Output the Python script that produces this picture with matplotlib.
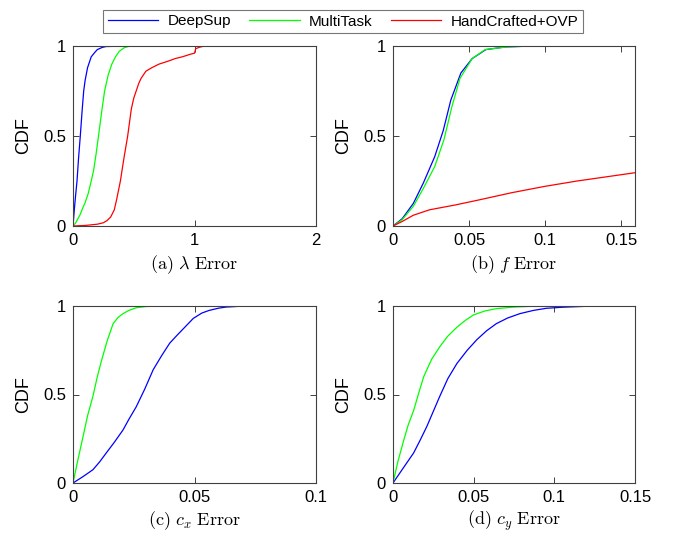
import matplotlib
matplotlib.use("Agg")
import matplotlib.pyplot as plt
import numpy as np

# ----- Matplotlib settings -----
plt.rcParams["font.family"] = ["Liberation Sans", "DejaVu Sans"]
plt.rcParams["mathtext.fontset"] = "cm"
plt.rcParams["font.size"] = 12

# ----- Data -----
series_names = ["DeepSup", "MultiTask", "HandCrafted+OVP"]
series_colors = ["#0000ff", "#00ff00", "#ff0000"]

# (a) lambda error
a_deep_x = [0, 0.006, 0.012, 0.02, 0.033, 0.045, 0.06, 0.075, 0.088, 0.1, 0.12,
            0.15, 0.18, 0.2, 0.24, 0.27, 0.44]
a_deep_y = [0, 0.05, 0.1, 0.16, 0.25, 0.37, 0.5, 0.64, 0.75, 0.81, 0.88,
            0.94, 0.965, 0.98, 0.992, 0.997, 1.0]
a_multi_x = [0, 0.02, 0.04, 0.06, 0.08, 0.1, 0.125, 0.15, 0.17, 0.19, 0.21, 0.235,
             0.26, 0.29, 0.32, 0.35, 0.38, 0.42, 0.47, 0.54]
a_multi_y = [0, 0.015, 0.04, 0.065, 0.1, 0.13, 0.18, 0.25, 0.31, 0.4, 0.5, 0.63,
             0.75, 0.84, 0.9, 0.94, 0.97, 0.99, 1.0, 1.0]
a_hand_x = [0, 0.1, 0.2, 0.25, 0.28, 0.31, 0.34, 0.36, 0.39, 0.42, 0.45, 0.48, 0.5,
            0.52, 0.54, 0.56, 0.6, 0.65, 0.71, 0.78, 0.84, 0.9, 0.97, 1.0, 1.01,
            1.04, 1.07, 1.3, 1.7]
a_hand_y = [0, 0.003, 0.01, 0.018, 0.03, 0.05, 0.09, 0.15, 0.25, 0.38, 0.5, 0.65, 0.71,
            0.75, 0.79, 0.82, 0.86, 0.88, 0.9, 0.915, 0.93, 0.94, 0.955, 0.96, 0.985,
            0.993, 0.998, 1.0, 1.0]

# (b) f error
b_deep_x = [0, 0.006, 0.0134, 0.02, 0.0274, 0.033, 0.038, 0.0446, 0.052, 0.061, 0.074, 0.092]
b_deep_y = [0, 0.04, 0.126, 0.24, 0.385, 0.53, 0.7, 0.85, 0.93, 0.98, 0.995, 1.0]
b_multi_x = [0, 0.006, 0.0134, 0.02, 0.0274, 0.0335, 0.0386, 0.044, 0.0520, 0.0605, 0.075, 0.092]
b_multi_y = [0, 0.035, 0.11, 0.21, 0.33, 0.48, 0.66, 0.82, 0.93, 0.98, 0.995, 1.0]
b_hand_x = [0, 0.006, 0.0134, 0.024, 0.041, 0.056, 0.078, 0.0996, 0.121, 0.159]
b_hand_y = [0, 0.025, 0.06, 0.09, 0.117, 0.144, 0.185, 0.22, 0.25, 0.296]

# (c) c_x error
c_deep_x = [0, 0.004, 0.0082, 0.011, 0.0137, 0.017, 0.0206, 0.023, 0.026, 0.0295, 0.033,
            0.0365, 0.0398, 0.0425, 0.0453, 0.0495, 0.053, 0.056, 0.06, 0.063, 0.068, 0.0755]
c_deep_y = [0, 0.035, 0.075, 0.12, 0.17, 0.23, 0.3, 0.36, 0.43, 0.53, 0.64,
            0.72, 0.79, 0.83, 0.87, 0.93, 0.96, 0.975, 0.988, 0.994, 0.998, 1.0]
c_multi_x = [0, 0.002, 0.0041, 0.006, 0.0082, 0.01, 0.0117, 0.014, 0.0165, 0.0185,
             0.0206, 0.023, 0.026, 0.03, 0.0357]
c_multi_y = [0, 0.13, 0.26, 0.38, 0.49, 0.6, 0.69, 0.8, 0.9, 0.935,
             0.957, 0.975, 0.99, 0.997, 1.0]

# (d) c_y error
d_deep_x = [0, 0.006, 0.0128, 0.017, 0.021, 0.025, 0.029, 0.034, 0.0396, 0.046, 0.052,
            0.058, 0.064, 0.071, 0.0787, 0.087, 0.095, 0.105, 0.116, 0.125]
d_deep_y = [0, 0.08, 0.17, 0.245, 0.32, 0.405, 0.49, 0.59, 0.675, 0.75, 0.81,
            0.86, 0.9, 0.932, 0.957, 0.975, 0.987, 0.993, 0.997, 1.0]
d_multi_x = [0, 0.003, 0.0066, 0.0095, 0.0128, 0.016, 0.019, 0.024, 0.029, 0.034,
             0.0396, 0.045, 0.05, 0.057, 0.064, 0.075, 0.085, 0.1, 0.115]
d_multi_y = [0, 0.12, 0.24, 0.33, 0.41, 0.51, 0.6, 0.7, 0.77, 0.83,
             0.88, 0.92, 0.95, 0.972, 0.985, 0.994, 0.998, 1.0, 1.0]

panels = [
    {
        "curves": [(a_deep_x, a_deep_y), (a_multi_x, a_multi_y), (a_hand_x, a_hand_y)],
        "xlim": (0, 2), "xticks": [0, 1, 2], "xlabels": ["0", "1", "2"],
        "caption": r"$\mathrm{(a)}\ \lambda\ \mathrm{Error}$",
        "pos": [73, 46, 316, 226],
    },
    {
        "curves": [(b_deep_x, b_deep_y), (b_multi_x, b_multi_y), (b_hand_x, b_hand_y)],
        "xlim": (0, 0.159), "xticks": [0, 0.05, 0.1, 0.15], "xlabels": ["0", "0.05", "0.1", "0.15"],
        "caption": r"$\mathrm{(b)}\ f\ \mathrm{Error}$",
        "pos": [393, 46, 635, 226],
    },
    {
        "curves": [(c_deep_x, c_deep_y), (c_multi_x, c_multi_y)],
        "xlim": (0, 0.1), "xticks": [0, 0.05, 0.1], "xlabels": ["0", "0.05", "0.1"],
        "caption": r"$\mathrm{(c)}\ c_x\ \mathrm{Error}$",
        "pos": [73, 306, 316, 483],
    },
    {
        "curves": [(d_deep_x, d_deep_y), (d_multi_x, d_multi_y)],
        "xlim": (0, 0.15), "xticks": [0, 0.05, 0.1, 0.15], "xlabels": ["0", "0.05", "0.1", "0.15"],
        "caption": r"$\mathrm{(d)}\ c_y\ \mathrm{Error}$",
        "pos": [393, 306, 635, 483],
    },
]

W, H = 673, 534
fig = plt.figure(figsize=(W / 100, H / 100), dpi=100)

edge = "#404040"
handles = []
for i, p in enumerate(panels):
    x0, y0, x1, y1 = p["pos"]
    ax = fig.add_axes([x0 / W, 1 - y1 / H, (x1 - x0) / W, (y1 - y0) / H])
    for k, (xs, ys) in enumerate(p["curves"]):
        (ln,) = ax.plot(xs, ys, color=series_colors[k], lw=0.9, label=series_names[k])
        if i == 0:
            handles.append(ln)
    ax.set_xlim(p["xlim"])
    ax.set_ylim(0, 1)
    ax.set_xticks(p["xticks"])
    ax.set_xticklabels(p["xlabels"])
    ax.set_yticks([0, 0.5, 1])
    ax.set_yticklabels(["0", "0.5", "1"])
    ax.tick_params(direction="in", top=True, right=True, length=4, width=0.7,
                   color=edge, labelsize=12, pad=5)
    for s in ax.spines.values():
        s.set_color(edge)
        s.set_linewidth(0.8)
    ax.set_ylabel("CDF", fontsize=13)
    ax.yaxis.set_label_coords(-0.17, 0.5)
    ax.text(0.5, -0.215, p["caption"], transform=ax.transAxes, ha="center",
            va="center", fontsize=13)

leg = fig.legend(handles, series_names, loc="center", bbox_to_anchor=(343 / W, 1 - 21.5 / H),
                 ncol=3, fontsize=11, frameon=True, fancybox=False, edgecolor="#555555",
                 handlelength=3.3, columnspacing=1.2, borderpad=0.3, handletextpad=0.6)
leg.get_frame().set_linewidth(0.8)

fig.savefig("out.png", dpi=100)
